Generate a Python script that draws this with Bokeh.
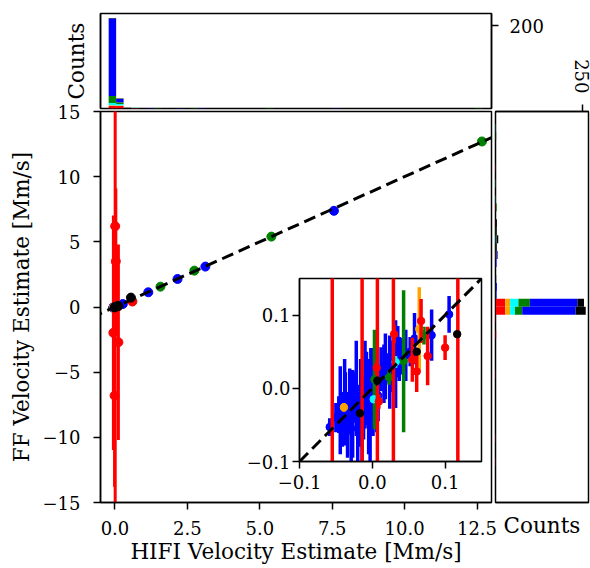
import math
import numpy as np
from bokeh.plotting import figure
from bokeh.models import GridBox, FixedTicker, CustomJSTickFormatter, LinearAxis, Range1d, Slope
from bokeh.embed import file_html
from bokeh.resources import INLINE

FONT = "DejaVu Serif"
W, H = 590, 568

# ---------------- data ----------------
series_order = ["blue", "green", "cyan", "orange", "red", "black"]
hist_order = ["red", "orange", "cyan", "green", "blue", "black"]
color_hex = {"red": "#ff0000", "orange": "#ffa500", "cyan": "#00ffff",
             "green": "#008000", "blue": "#0000ff", "black": "#000000"}

red_x = [-0.055, -0.014, 0.007, 0.029, 0.1175, 0.006, 0.009, 0.030, 0.055, 0.061, 0.067, 0.076, 0.100, 0.60]
red_y = [-1.98, -6.8, 6.2, 3.5, -2.7, 0.028, -0.018, 0.074, 0.039, 0.023, 0.092, 0.044, 0.0555, 0.42]
red_err = [9.0, 7.0, 24.0, 5.6, 7.5, 0.010, 0.010, 0.012, 0.030, 0.028, 0.030, 0.040, 0.017, 0.05]

orange_x = [-0.039, 0.0645]
orange_y = [-0.026, 0.081]
orange_err = [0.006, 0.057]

cyan_x = [0.002, 0.032, 0.60]
cyan_y = [-0.015, 0.036, 0.47]
cyan_err = [0.004, 0.008, 0.05]

green_x = [0.003, 0.023, 0.043, 0.071, 1.57, 2.74, 5.40, 12.67]
green_y = [0.012, 0.015, 0.037, 0.072, 1.56, 2.79, 5.40, 12.70]
green_err = [0.068, 0.010, 0.097, 0.012, 0.08, 0.08, 0.08, 0.10]

blue_x = [-0.0585, -0.050, -0.046, -0.044, -0.041, -0.038, -0.037, -0.034, -0.031, -0.029,
          -0.027, -0.024, -0.022, -0.020, -0.016, -0.014, -0.012, -0.010, -0.008, -0.005,
          -0.003, -0.002, 0.001, 0.004, 0.006, 0.008, 0.012, 0.016, 0.018, 0.020,
          0.024, 0.028, 0.032, 0.035, 0.037, 0.041, 0.046, 0.052, 0.058, 0.0815, 0.1055,
          0.27, 1.15, 2.16, 3.12, 7.56]
blue_y = [-0.053, -0.040, -0.036, -0.030, -0.045, -0.010, -0.028, -0.050, -0.018, -0.040,
          -0.035, -0.012, 0.000, -0.055, -0.020, -0.045, -0.030, 0.005, 0.000, -0.025,
          -0.040, 0.010, -0.005, 0.018, 0.000, -0.010, 0.026, 0.020, 0.030, 0.028,
          0.022, 0.030, 0.033, 0.050, 0.040, 0.044, 0.045, 0.050, 0.068, 0.0725, 0.101,
          0.23, 1.13, 2.15, 3.10, 7.38]
blue_err = [0.012, 0.020, 0.025, 0.060, 0.035, 0.050, 0.050, 0.045, 0.045, 0.065,
            0.060, 0.035, 0.065, 0.050, 0.060, 0.060, 0.040, 0.060, 0.050, 0.065,
            0.060, 0.045, 0.060, 0.050, 0.060, 0.035, 0.030, 0.040, 0.045, 0.020,
            0.050, 0.035, 0.060, 0.035, 0.030, 0.025, 0.035, 0.020, 0.035, 0.035, 0.025,
            0.05, 0.08, 0.08, 0.08, 0.10]

black_x = [-0.017, 0.007, 0.061, 0.1166, 0.55]
black_y = [-0.034, 0.0105, 0.050, 0.074, 0.72]
black_err = [0.004, 0.004, 0.004, 0.004, 0.05]

series = {
    "red": (red_x, red_y, red_err),
    "orange": (orange_x, orange_y, orange_err),
    "cyan": (cyan_x, cyan_y, cyan_err),
    "green": (green_x, green_y, green_err),
    "blue": (blue_x, blue_y, blue_err),
    "black": (black_x, black_y, black_err),
}

# tick values
main_xticks = [0.0, 2.5, 5.0, 7.5, 10.0, 12.5]
main_yticks = [-15, -10, -5, 0, 5, 10, 15]
inset_ticks = [-0.1, 0.0, 0.1]
top_hist_ticks = [200]
right_hist_ticks = [250]

# top histogram (HIFI velocity), stacked counts per bin index
top_bin_start = -0.218
top_bin_width = 0.258
top_bins =   [0,   1, 2, 3, 5, 6, 9, 11, 12, 21, 30, 49]
top_red =    [6,   6, 0, 1, 0, 0, 0, 0,  0,  0,  0,  0]
top_orange = [2,   1, 0, 0, 0, 0, 0, 0,  0,  0,  0,  0]
top_cyan =   [5,   4, 0, 1, 0, 0, 0, 0,  0,  0,  0,  0]
top_green =  [17,  4, 0, 0, 0, 1, 0, 1,  0,  1,  0,  1]
top_blue =   [187, 8, 0, 0, 1, 0, 1, 0,  1,  0,  1,  0]
top_black =  [1,   1, 2, 0, 0, 0, 0, 0,  0,  0,  0,  0]

# right histogram (FF velocity), stacked counts per bin index
right_bin_start = -16.45
right_bin_width = 0.61
right_bins =   [7, 10, 18, 23, 25, 26,  27,  28, 29, 30, 32, 33, 34, 35, 36, 37, 39, 40, 42, 44, 48, 49]
right_red =    [1, 1,  1,  2,  1,  28,  28,  0,  0,  0,  0,  1,  0,  0,  0,  1,  2,  0,  0,  1,  0,  0]
right_orange = [0, 0,  0,  0,  0,  14,  14,  0,  0,  0,  0,  0,  0,  0,  0,  0,  0,  0,  0,  0,  0,  0]
right_cyan =   [0, 0,  0,  0,  0,  14,  24,  0,  0,  0,  0,  1,  0,  2,  0,  0,  0,  1,  1,  0,  0,  1]
right_green =  [0, 0,  0,  0,  0,  21,  33,  1,  1,  0,  0,  0,  2,  1,  2,  0,  2,  0,  0,  0,  2,  0]
right_blue =   [0, 0,  0,  0,  0,  154, 137, 2,  3,  1,  3,  2,  0,  0,  0,  0,  0,  0,  0,  0,  0,  0]
right_black =  [0, 0,  0,  0,  0,  29,  19,  0,  0,  1,  0,  2,  2,  5,  2,  3,  0,  0,  0,  0,  0,  0]

top_counts = {"red": top_red, "orange": top_orange, "cyan": top_cyan,
              "green": top_green, "blue": top_blue, "black": top_black}
right_counts = {"red": right_red, "orange": right_orange, "cyan": right_cyan,
                "green": right_green, "blue": right_blue, "black": right_black}


# ---------------- helpers ----------------
def make_fig(x_range, y_range, borders, **kw):
    p = figure(width=W, height=H, x_range=x_range, y_range=y_range,
               output_backend="svg", toolbar_location=None,
               min_border_left=borders[0], min_border_right=borders[1],
               min_border_top=borders[2], min_border_bottom=borders[3], **kw)
    p.frame_align = False
    p.border_fill_alpha = 0
    p.background_fill_color = "white"
    p.outline_line_color = "black"
    p.outline_line_width = 1.5
    p.grid.visible = False
    return p


def style_axis(ax, standoff, label_standoff=5, tick_out=7):
    ax.major_label_text_font = FONT
    ax.major_label_text_font_size = "18px"
    ax.major_label_text_color = "black"
    ax.major_label_standoff = standoff
    ax.axis_label_text_font = FONT
    ax.axis_label_text_font_size = "21.5px"
    ax.axis_label_text_font_style = "normal"
    ax.axis_label_text_color = "black"
    ax.axis_label_standoff = label_standoff
    ax.axis_line_color = "black"
    ax.axis_line_width = 1.5
    ax.major_tick_line_color = "black"
    ax.major_tick_line_width = 1.5
    ax.major_tick_out = tick_out
    ax.major_tick_in = 0
    ax.minor_tick_line_color = None


def fmt(digits):
    return CustomJSTickFormatter(
        code="return tick.toFixed(%d).replace('-', '\\u2212');" % digits)


def draw_series(p, lw, size):
    for name in series_order:
        xs, ys, es = series[name]
        x = np.array(xs)
        y = np.array(ys)
        e = np.array(es)
        c = color_hex[name]
        p.segment(x0=x, y0=y - e, x1=x, y1=y + e, line_color=c, line_width=lw)
        p.scatter(x=x, y=y, size=size, fill_color=c, line_color=c)


# ---------------- main panel ----------------
main = make_fig(Range1d(-0.5, 13.0), Range1d(-15, 15), (100, 99, 111, 66))
style_axis(main.xaxis[0], standoff=11, label_standoff=1)
style_axis(main.yaxis[0], standoff=13, label_standoff=6)
main.xaxis.ticker = FixedTicker(ticks=main_xticks)
main.xaxis.formatter = fmt(1)
main.yaxis.ticker = FixedTicker(ticks=main_yticks)
main.yaxis.formatter = fmt(0)
main.xaxis.axis_label = "HIFI Velocity Estimate [Mm/s]"
main.yaxis.axis_label = "FF Velocity Estimate [Mm/s]"
draw_series(main, lw=3, size=9)
main.add_layout(Slope(gradient=1, y_intercept=0, line_color="black",
                      line_width=3, line_dash="12 6"))

# ---------------- top histogram ----------------
top = make_fig(main.x_range, Range1d(0, 229), (100, 99, 13, 460), x_axis_location=None)
style_axis(top.yaxis[0], standoff=0, label_standoff=12, tick_out=0)
top.yaxis.ticker = FixedTicker(ticks=[])
top.yaxis.axis_label = "Counts"
top_right_axis = LinearAxis(ticker=FixedTicker(ticks=top_hist_ticks), formatter=fmt(0))
style_axis(top_right_axis, standoff=11)
top.add_layout(top_right_axis, "right")
tb = np.array(top_bins)
tx = top_bin_start + (tb + 0.5) * top_bin_width
base = np.zeros(len(tb))
for name in hist_order:
    cnt = np.array(top_counts[name], dtype=float)
    top.vbar(x=tx, width=top_bin_width, bottom=base, top=base + cnt,
             fill_color=color_hex[name], line_color=None)
    base = base + cnt

# ---------------- right histogram ----------------
right = make_fig(Range1d(0, 268), main.y_range, (495, 2, 111, 66), y_axis_location=None)
style_axis(right.xaxis[0], standoff=0, label_standoff=10, tick_out=0)
right.xaxis.ticker = FixedTicker(ticks=[])
right.xaxis.axis_label = "Counts"
right_top_axis = LinearAxis(ticker=FixedTicker(ticks=right_hist_ticks), formatter=fmt(0),
                            major_label_orientation=-math.pi / 2)
style_axis(right_top_axis, standoff=11)
right.add_layout(right_top_axis, "above")
rb = np.array(right_bins)
ry = right_bin_start + (rb + 0.5) * right_bin_width
left = np.zeros(len(rb))
for name in hist_order:
    cnt = np.array(right_counts[name], dtype=float)
    right.hbar(y=ry, height=right_bin_width, left=left, right=left + cnt,
               fill_color=color_hex[name], line_color=None)
    left = left + cnt

# ---------------- inset ----------------
inset = make_fig(Range1d(-0.1, 0.15), Range1d(-0.1, 0.15), (299, 109, 278, 107))
style_axis(inset.xaxis[0], standoff=6)
style_axis(inset.yaxis[0], standoff=2)
inset.xaxis.ticker = FixedTicker(ticks=inset_ticks)
inset.yaxis.ticker = FixedTicker(ticks=inset_ticks)
inset.xaxis.formatter = fmt(1)
inset.yaxis.formatter = fmt(1)
draw_series(inset, lw=3.5, size=7.5)
inset.add_layout(Slope(gradient=1, y_intercept=0, line_color="black",
                       line_width=3, line_dash="12 6"))

layout = GridBox(children=[(top, 0, 0), (main, 0, 0), (right, 0, 0), (inset, 0, 0)])

open("out.html", "w").write(file_html(layout, INLINE))
